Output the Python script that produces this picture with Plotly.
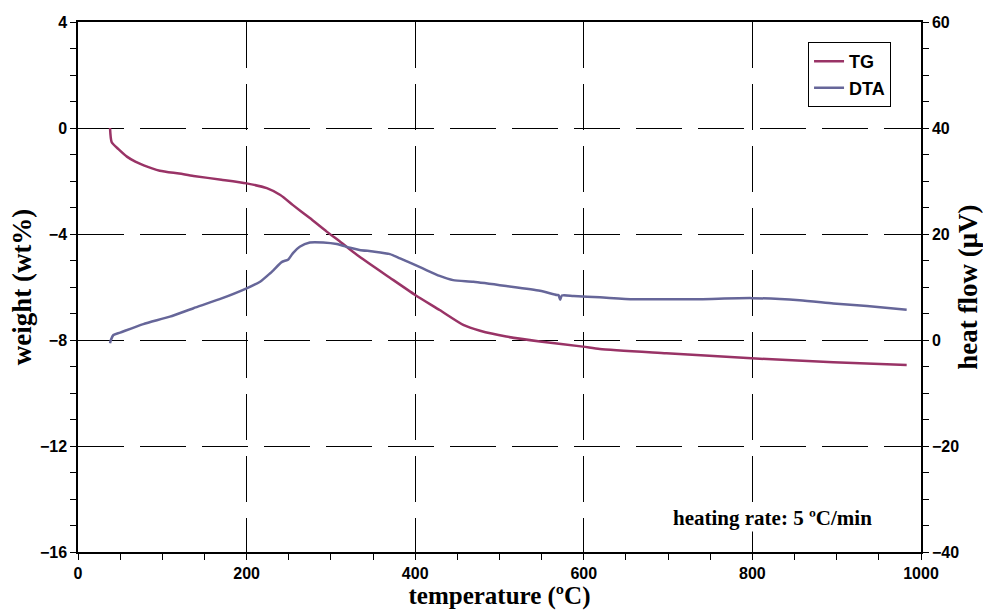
import plotly.graph_objects as go

# TG curve (weight %, left axis)
tg_temp = [38, 40, 48, 58, 68, 78, 97, 120, 137, 170, 200, 224, 240, 255, 275, 295, 311, 334, 370, 400, 429, 457, 477, 508, 548, 599, 619, 698, 799, 896, 983]
tg_weight = [0.0, -0.54, -0.8, -1.08, -1.27, -1.41, -1.61, -1.72, -1.81, -1.95, -2.09, -2.27, -2.53, -2.91, -3.4, -3.91, -4.29, -4.86, -5.65, -6.3, -6.87, -7.43, -7.65, -7.87, -8.06, -8.25, -8.34, -8.5, -8.69, -8.84, -8.94]

# DTA curve (heat flow µV, right axis)
dta_temp = [38, 39, 42, 50, 77.5, 109, 137, 168, 200, 216, 228, 232, 241.6, 249.5, 255, 263, 275, 291, 307, 322.7, 334, 350, 370, 382, 409, 429, 445, 469, 508, 548, 568, 570, 572, 574, 588, 619, 659, 698, 738, 799, 856, 896, 936, 983]
dta_flow = [-0.6, 0.0, 0.94, 1.4, 3.0, 4.4, 6.0, 7.7, 9.75, 11.0, 12.6, 13.2, 14.7, 15.2, 16.4, 17.6, 18.4, 18.4, 18.1, 17.4, 17.0, 16.7, 16.2, 15.4, 13.5, 12.1, 11.3, 11.0, 10.2, 9.3, 8.5, 8.5, 7.6, 8.4, 8.3, 8.05, 7.7, 7.7, 7.7, 7.9, 7.5, 6.9, 6.4, 5.7]

tick_font = dict(family="Liberation Sans Narrow, Arial Narrow, Liberation Sans", size=16, color="black", weight="bold")
title_font = dict(family="Liberation Serif, Times New Roman", size=27, color="black", weight="bold")
xtitle_font = dict(family="Liberation Serif, Times New Roman", size=25, color="black", weight="bold")

fig = go.Figure()
fig.add_trace(go.Scatter(x=tg_temp, y=tg_weight, mode="lines", name="TG",
                         line=dict(color="#993366", width=2.5, shape="spline", smoothing=0.6), yaxis="y"))
fig.add_trace(go.Scatter(x=dta_temp, y=dta_flow, mode="lines", name="DTA",
                         line=dict(color="#666699", width=2.5, shape="spline", smoothing=0.6), yaxis="y2"))

fig.update_layout(
    width=983, height=612,
    margin=dict(l=78, r=62, t=22, b=60),
    paper_bgcolor="white", plot_bgcolor="white",
    showlegend=True,
    legend=dict(x=0.866, y=0.962, xanchor="left", yanchor="top",
                bordercolor="black", borderwidth=1, bgcolor="white",
                font=dict(family="Liberation Sans, Arial", size=18, color="black", weight="bold"),
                itemwidth=30, tracegroupgap=2),
    xaxis=dict(range=[0, 1000], dtick=200, tick0=0, automargin=False,
               showline=True, linecolor="black", linewidth=1.5, mirror=True,
               ticks="outside", ticklen=6, tickcolor="black",
               minor=dict(dtick=50, ticks="outside", ticklen=6, tickcolor="black", showgrid=False),
               showgrid=True, gridcolor="black", gridwidth=1, griddash="46px,16px",
               zeroline=False, tickfont=tick_font,
               title=dict(text="temperature (ºC)", font=xtitle_font, standoff=2)),
    yaxis=dict(range=[-16, 4], dtick=4, tick0=0, automargin=False,
               showline=True, linecolor="black", linewidth=1.5,
               ticks="outside", ticklen=6, tickcolor="black",
               minor=dict(dtick=1, ticks="outside", ticklen=6, tickcolor="black", showgrid=False),
               showgrid=True, gridcolor="black", gridwidth=1, griddash="46px,16px",
               zeroline=False, tickfont=tick_font,
               title=dict(text="weight (wt%)", font=title_font, standoff=0)),
    yaxis2=dict(range=[-40, 60], dtick=20, tick0=0, overlaying="y", side="right", automargin=False,
                showline=True, linecolor="black", linewidth=1.5,
                ticks="outside", ticklen=6, tickcolor="black",
                minor=dict(dtick=5, ticks="outside", ticklen=6, tickcolor="black", showgrid=False),
                showgrid=False, zeroline=False, tickfont=tick_font,
                title=dict(text="heat flow (μV)", font=title_font, standoff=6)),
    annotations=[dict(text="heating rate: 5 ºC/min", x=824, y=-14.7, xref="x", yref="y",
                      showarrow=False, bgcolor="white",
                      font=dict(family="Liberation Serif, Times New Roman", size=21, color="black", weight="bold"))],
)

fig.write_html("out.html")
